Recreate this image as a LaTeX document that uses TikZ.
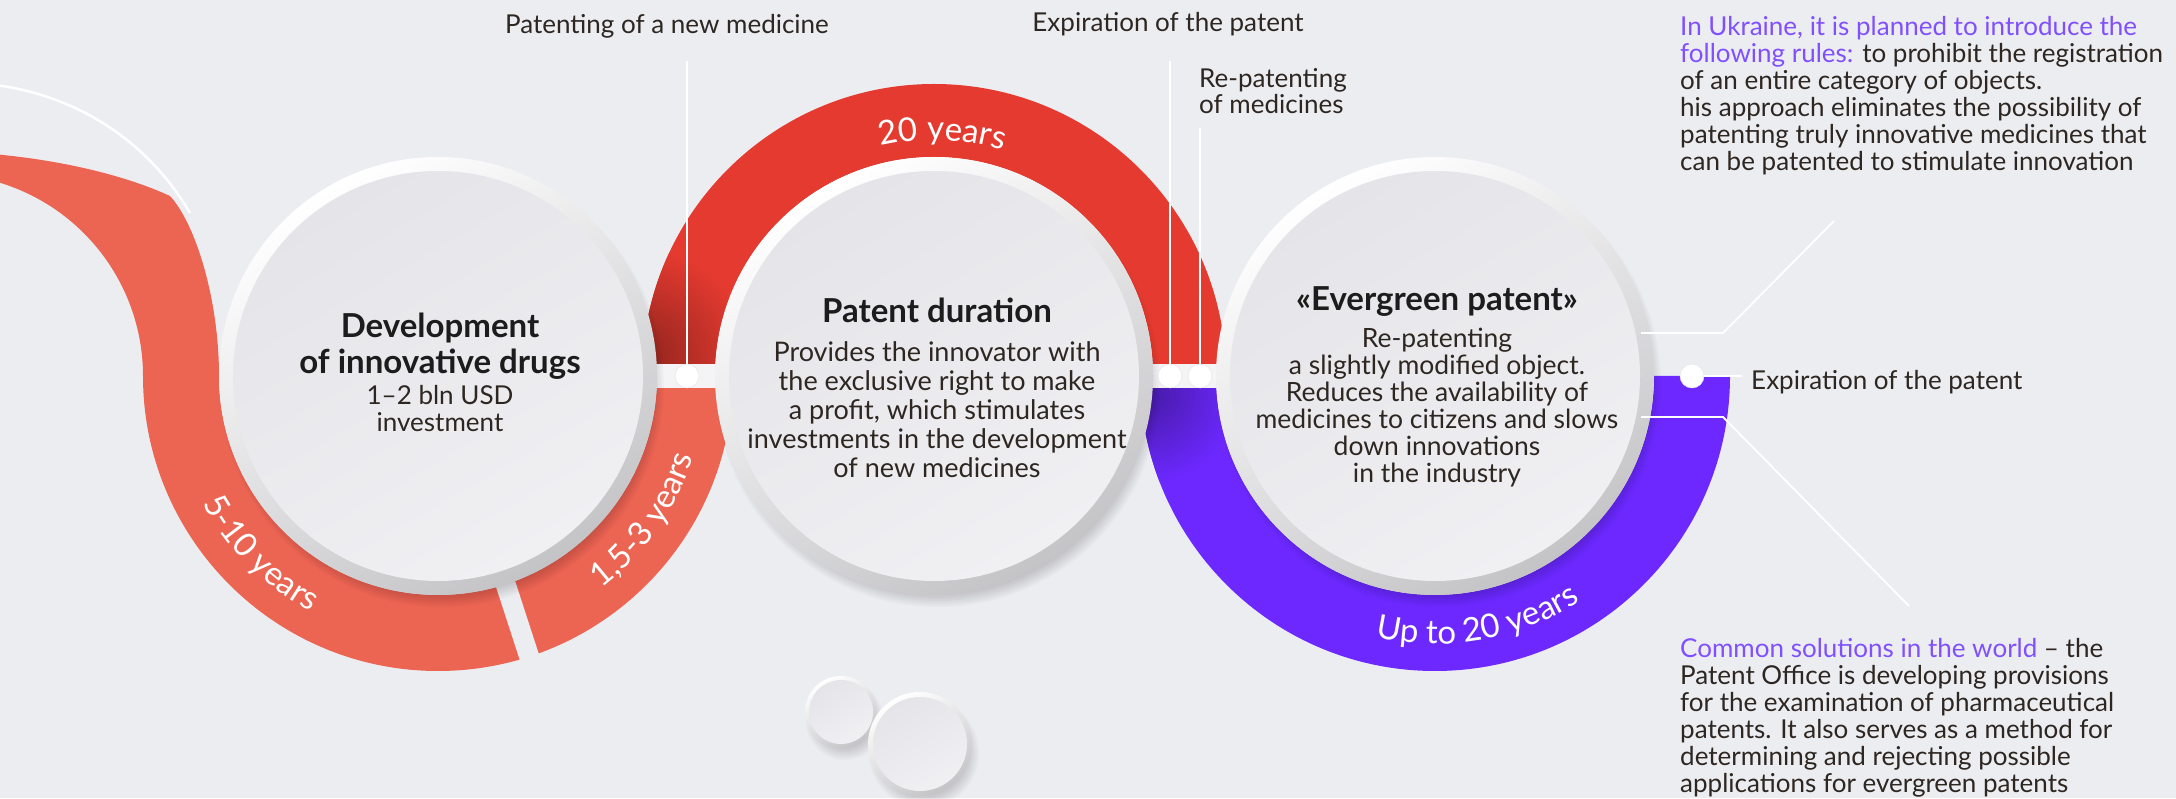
\documentclass[tikz,border=0pt]{standalone}
\usepackage{fontspec}
\setmainfont{Lato}
\usetikzlibrary{decorations.text,calc}
\definecolor{bg}{RGB}{236,237,241}
\definecolor{stripc}{RGB}{244,244,247}
\definecolor{coral}{RGB}{236,100,82}
\definecolor{redb}{RGB}{229,58,48}
\definecolor{purp}{RGB}{108,40,255}
\definecolor{purtxt}{RGB}{128,80,255}
\definecolor{txt}{RGB}{45,38,33}
\definecolor{ttl}{RGB}{28,28,28}
\definecolor{ringd}{RGB}{196,196,199}
\definecolor{innA}{RGB}{229,229,233}
\definecolor{innB}{RGB}{240,240,243}
\newcommand\fs[2]{\fontsize{#1}{#2}\selectfont}
\newcommand\disc[4]{%
  \foreach \k in {0,...,7}{\fill[black,opacity=0.022] (#1+4,#2-9) circle[radius=#3+3-\k*2];}
  \shade[top color=white, bottom color=ringd, shading angle=30] (#1,#2) circle[radius=#3];
  \shade[top color=innA, bottom color=innB, shading angle=30] (#1,#2) circle[radius=#3-#4];
}
\begin{document}
\begin{tikzpicture}[x=1pt,y=1pt,
  wline/.style={draw=white, line width=1.8pt},
  dotn/.style={circle, fill=white, draw=black!10, line width=0.5pt, minimum size=24pt, inner sep=0pt},
  lbl/.style={text=txt, inner sep=0pt, font={\fs{26}{28}}},
  ttlf/.style={text=ttl, inner sep=0pt, align=center, font={\bfseries\fs{33}{36}}},
  bodyf/.style={text=txt, inner sep=0pt, align=center, font={\fs{27}{29}}},
  side/.style={text=txt, inner sep=0pt, align=left, font={\fs{26}{27}}},
  bandtxt/.style={decorate, decoration={text along path, text align=center, text color=white, text={|\fs{33}{33}|#1}}}
]
\useasboundingbox (0,0) rectangle (2176,798);
\fill[bg] (0,0) rectangle (2176,798);
\begin{scope}
\clip (0,0) rectangle (2176,798);
% thin white arc top-left
\coordinate (wa0) at (-5,713);
\coordinate (wa1) at (190,585);
\draw[white, line width=2.5pt] (wa0) .. controls (60,705) and (140,670) .. (wa1);
% coral S band
\fill[coral] (-20,645) .. controls (50,640) and (120,625) .. (170,602)
  .. controls (195,575) and (219,500) .. (219,422)
  arc[start angle=180, end angle=360, radius=219]
  -- (733,422)
  arc[start angle=0, end angle=-180, radius=295]
  arc[start angle=0, end angle=80, radius=202]
  -- cycle;
% gap in coral band
\draw[bg, line width=20pt] (438,422) ++(-72:200) -- ++(-72:130);
% red band
\begin{scope}
\clip (1153,422) arc[start angle=0,end angle=180,radius=219] -- (642,422) arc[start angle=180,end angle=0,radius=292] -- cycle;
\fill[redb] (600,400) rectangle (1260,730);
\shade[inner color=redb!62!black, outer color=redb] (640,440) circle[radius=110];
\end{scope}
% purple band
\begin{scope}
\clip (1216,422) arc[start angle=180,end angle=360,radius=219] -- (1730,422) arc[start angle=360,end angle=180,radius=295] -- cycle;
\fill[purp] (1100,100) rectangle (1760,440);
\shade[inner color=purp!65!black, outer color=purp] (1147,405) circle[radius=90];
\end{scope}
% strip
\fill[stripc] (600,410) rectangle (1260,434);
% band labels
\path[bandtxt={5-10 years}] (438,422) ++(-165:268) arc[start angle=-165, end angle=-105, radius=268];
\path[bandtxt={1,5-3 years}] (438,422) ++(-65:268) arc[start angle=-65, end angle=-5, radius=268];
\path[bandtxt={20 years}] (934,422) ++(118:236) arc[start angle=118, end angle=58, radius=236];
\path[bandtxt={Up to 20 years}] (1435,422) ++(-110:268) arc[start angle=-110, end angle=-50, radius=268];
% circles
\disc{438}{422}{219}{14}
\disc{934}{422}{219}{14}
\disc{1435}{422}{219}{14}
\disc{841}{86}{36}{4}
\disc{920}{54}{52}{5}
\node[circle, minimum size=438pt, inner sep=0pt] (C1) at (438,422) {};
\node[circle, minimum size=438pt, inner sep=0pt] (C2) at (934,422) {};
\node[circle, minimum size=438pt, inner sep=0pt] (C3) at (1435,422) {};
% dots and lines
\node[dotn] (d1) at (687,422) {};
\node[dotn] (d2) at (1170,422) {};
\node[dotn] (d3) at (1200,422) {};
\node[dotn] (d4) at (1692,422) {};
\coordinate (v1) at (687,737);
\coordinate (v2) at (1170,737);
\coordinate (v3) at (1200,670);
\coordinate (e4) at (1742,422);
\draw[wline] (v1) -- (d1.north);
\draw[wline] (v2) -- (d2.north);
\draw[wline] (v3) -- (d3.north);
\draw[wline] (d4.east) -- (e4);
\coordinate (u0) at (1641,465);
\coordinate (u1) at (1723,465);
\coordinate (u2) at (1834,577);
\coordinate (l0) at (1641,381);
\coordinate (l1) at (1723,381);
\coordinate (l2) at (1909,192);
\draw[wline] (u0) -- (u1) -- (u2);
\draw[wline] (l0) -- (l1) -- (l2);
% labels
\node[lbl, anchor=base] (lab1) at (667,764) {Patenting of a new medicine};
\node[lbl, anchor=base] (lab2) at (1168,766) {Expiration of the patent};
\node[lbl, anchor=north west, align=left, font={\fs{26}{26}}] (lab3) at (1199,730) {Re-patenting\\of medicines};
\node[lbl, anchor=base west] (lab4) at (1751,408) {Expiration of the patent};
% circle texts
\node[ttlf] (t1) at (440,452) {Development\\of innovative drugs};
\node[bodyf, font={\fs{26}{27}}] (s1) at (440,389) {1–2 bln USD\\investment};
\node[ttlf] (t2) at (937,488) {Patent duration};
\node[bodyf] (s2) at (937,388) {Provides the innovator with\\the exclusive right to make\\a profit, which stimulates\\investments in the development\\of new medicines};
\node[ttlf] (t3) at (1437,496) {«Evergreen patent»};
\node[bodyf, font={\fs{26.5}{27}}] (s3) at (1437,390) {Re-patenting\\a slightly modified object.\\Reduces the availability of\\medicines to citizens and slows\\down innovations\\in the industry};
% side texts
\node[side, anchor=north west] (r1) at (1680,782) {\textcolor{purtxt}{In Ukraine, it is planned to introduce the}\\\textcolor{purtxt}{following rules:} to prohibit the registration\\of an entire category of objects.\\his approach eliminates the possibility of\\patenting truly innovative medicines that\\can be patented to stimulate innovation};
\node[side, anchor=north west] (r2) at (1680,160) {\textcolor{purtxt}{Common solutions in the world} – the\\Patent Office is developing provisions\\for the examination of pharmaceutical\\patents. It also serves as a method for\\determining and rejecting possible\\applications for evergreen patents};
\end{scope}
\end{tikzpicture}
\end{document}
